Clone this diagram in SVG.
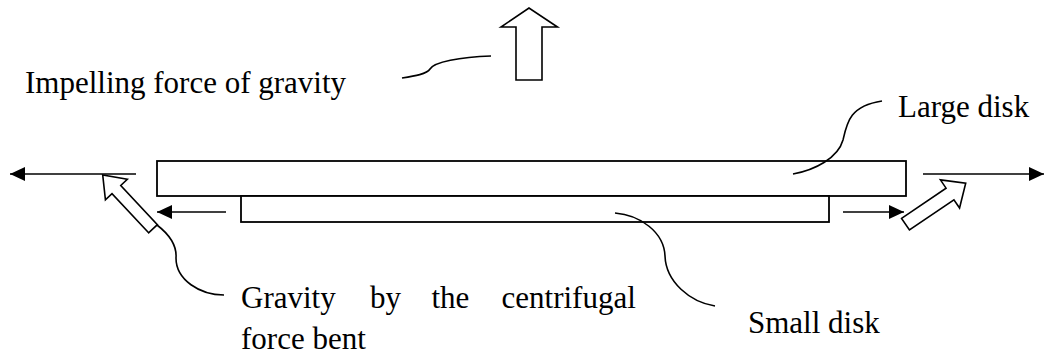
<svg xmlns="http://www.w3.org/2000/svg" width="1045" height="361" viewBox="0 0 1045 361">
<style>
.t{font-family:"Liberation Serif","Times New Roman",serif;font-size:31px;fill:#000}
.ln{fill:none;stroke:#000;stroke-width:1.6}
.box{fill:#fff;stroke:#000;stroke-width:1.8}
.hollow{fill:#fff;stroke:#000;stroke-width:1.6;stroke-linejoin:miter}
</style>
<defs>
<marker id="ah" markerUnits="userSpaceOnUse" markerWidth="16" markerHeight="16" viewBox="0 0 16 16" refX="15" refY="8" orient="auto">
<path d="M0,1 L15,8 L0,15 Z" fill="#000"/>
</marker>
</defs>
<rect width="1045" height="361" fill="#fff"/>
<g id="large-disk"><rect class="box" x="157" y="161" width="749" height="35"/></g>
<g id="small-disk"><rect class="box" x="241" y="196" width="588" height="26"/></g>
<g id="gravity-up"><polygon class="hollow" points="516,80 516,27 501,27 529,8 557.5,27 542,27 542,80"/></g>
<g id="bent-left"><polygon class="hollow" transform="translate(153,228.7) rotate(-133.1)" points="0,-6 53.6,-6 53.6,-15 73.6,0 53.6,15 53.6,6 0,6"/></g>
<g id="bent-right"><polygon class="hollow" transform="translate(905.5,224.2) rotate(-34.2)" points="0,-7 53.8,-7 53.8,-17 72.8,0 53.8,17 53.8,7 0,7"/></g>
<g id="connectors">
<line class="ln" x1="136" y1="174" x2="10" y2="174" marker-end="url(#ah)"/>
<line class="ln" x1="923" y1="174" x2="1044" y2="174" marker-end="url(#ah)"/>
<line class="ln" x1="226" y1="212" x2="157" y2="212" marker-end="url(#ah)"/>
<line class="ln" x1="843" y1="212" x2="904" y2="212" marker-end="url(#ah)"/>
<path class="ln" d="M402,78 C415,76 427,74 430,69 C434,62 460,57 491,56"/>
<path class="ln" d="M793,174 C815,170 838,158 843,140 C847,122 850,106 882,101"/>
<path class="ln" d="M615,213 C640,215 664,232 665,256 C666,282 690,302 715,306"/>
<path class="ln" d="M157,225 C170,235 177,245 176,258 C176,280 200,295 224,295"/>
</g>
<g id="labels">
<text class="t" x="25" y="93">Impelling force of gravity</text>
<text class="t" x="898" y="117">Large disk</text>
<text class="t" x="748" y="333">Small disk</text>
<text class="t" y="308"><tspan x="241">Gravity</tspan><tspan x="370">by</tspan><tspan x="431.5">the</tspan><tspan x="501.5">centrifugal</tspan></text>
<text class="t" x="241" y="349">force bent</text>
</g>
</svg>
